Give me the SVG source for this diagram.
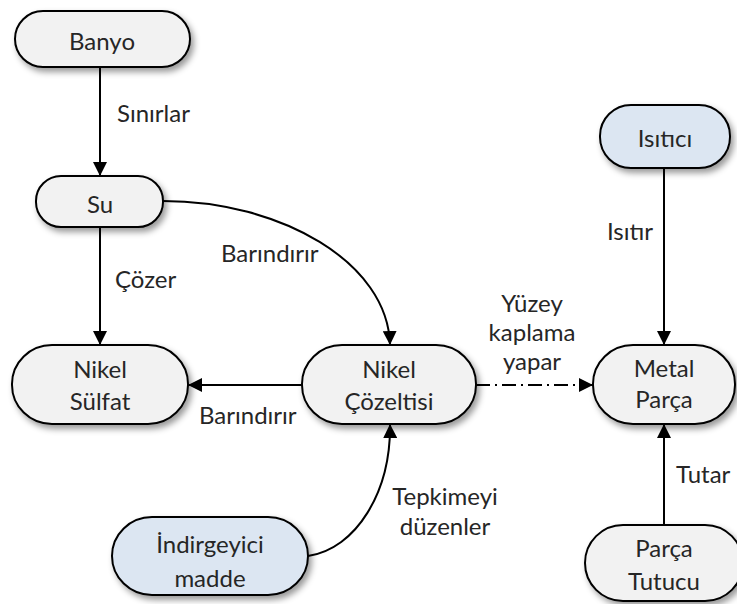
<svg xmlns="http://www.w3.org/2000/svg" width="737" height="604" viewBox="0 0 737 604">
  <style>
    .node rect { stroke: #000; stroke-width: 2; filter: url(#shadow); }
    .plain rect { fill: #f2f2f2; }
    .blue rect { fill: #dce6f2; }
    text { font-family: Lato, "Liberation Sans", sans-serif; font-size: 24px; fill: #262626; }
    .c { text-anchor: middle; }
    .edge { fill: none; stroke: #000; stroke-width: 2; marker-end: url(#arrow); }
    .dashdot { stroke-dasharray: 14 5 2 5; }
  </style>
  <defs>
    <filter id="shadow" x="-20%" y="-20%" width="150%" height="160%">
      <feDropShadow dx="3" dy="4" stdDeviation="3" flood-color="#000" flood-opacity="0.4"/>
    </filter>
    <marker id="arrow" viewBox="0 0 14 14" refX="14" refY="7" markerWidth="14" markerHeight="14" markerUnits="userSpaceOnUse" orient="auto">
      <path d="M0,0 L14,7 L0,14 Z" fill="#000"/>
    </marker>
  </defs>

  <!-- connectors -->
  <g id="connectors">
    <path class="edge" d="M100,67 L100,176"/>
    <path class="edge" d="M100,227 L100,345"/>
    <path class="edge" d="M163,201 C280,201 388,262 390,345"/>
    <path class="edge" d="M302,385 L188,385"/>
    <path class="edge dashdot" d="M476,385 L593,385"/>
    <path class="edge" d="M664,168 L664,345"/>
    <path class="edge" d="M664,525 L664,424"/>
    <path class="edge" d="M308,556 C356,549 391,492 390,424"/>
  </g>

  <!-- edge labels -->
  <g id="labels">
    <text x="117" y="122">Sınırlar</text>
    <text x="115" y="288">Çözer</text>
    <text x="221" y="262">Barındırır</text>
    <text x="199" y="424">Barındırır</text>
    <text x="607" y="240">Isıtır</text>
    <text class="c" x="532" y="312">Yüzey</text>
    <text class="c" x="532" y="341">kaplama</text>
    <text class="c" x="532" y="370">yapar</text>
    <text class="c" x="445" y="505">Tepkimeyi</text>
    <text class="c" x="445" y="535">düzenler</text>
    <text x="676" y="483">Tutar</text>
  </g>

  <!-- nodes -->
  <g id="banyo" class="node plain">
    <rect x="15" y="11" width="175" height="56" rx="28" ry="28"/>
    <text class="c" x="102" y="50">Banyo</text>
  </g>
  <g id="su" class="node plain">
    <rect x="36" y="176" width="127" height="51" rx="25" ry="25"/>
    <text class="c" x="100" y="213">Su</text>
  </g>
  <g id="nikel-sulfat" class="node plain">
    <rect x="12" y="345" width="176" height="79" rx="40" ry="39"/>
    <text class="c" x="100" y="378">Nikel</text>
    <text class="c" x="100" y="410">Sülfat</text>
  </g>
  <g id="nikel-cozeltisi" class="node plain">
    <rect x="302" y="345" width="174" height="79" rx="40" ry="39"/>
    <text class="c" x="389" y="378">Nikel</text>
    <text class="c" x="389" y="410">Çözeltisi</text>
  </g>
  <g id="isitici" class="node blue">
    <rect x="600" y="105" width="130" height="63" rx="31" ry="31"/>
    <text class="c" x="665" y="147">Isıtıcı</text>
  </g>
  <g id="metal-parca" class="node plain">
    <rect x="593" y="345" width="142" height="79" rx="40" ry="39"/>
    <text class="c" x="664" y="377">Metal</text>
    <text class="c" x="664" y="408">Parça</text>
  </g>
  <g id="indirgeyici" class="node blue">
    <rect x="112" y="517" width="196" height="78" rx="40" ry="39"/>
    <text class="c" x="210" y="553">İndirgeyici</text>
    <text class="c" x="210" y="587">madde</text>
  </g>
  <g id="parca-tutucu" class="node plain">
    <rect x="585" y="525" width="158" height="76" rx="38" ry="38"/>
    <text class="c" x="664" y="557">Parça</text>
    <text class="c" x="664" y="590">Tutucu</text>
  </g>
</svg>
